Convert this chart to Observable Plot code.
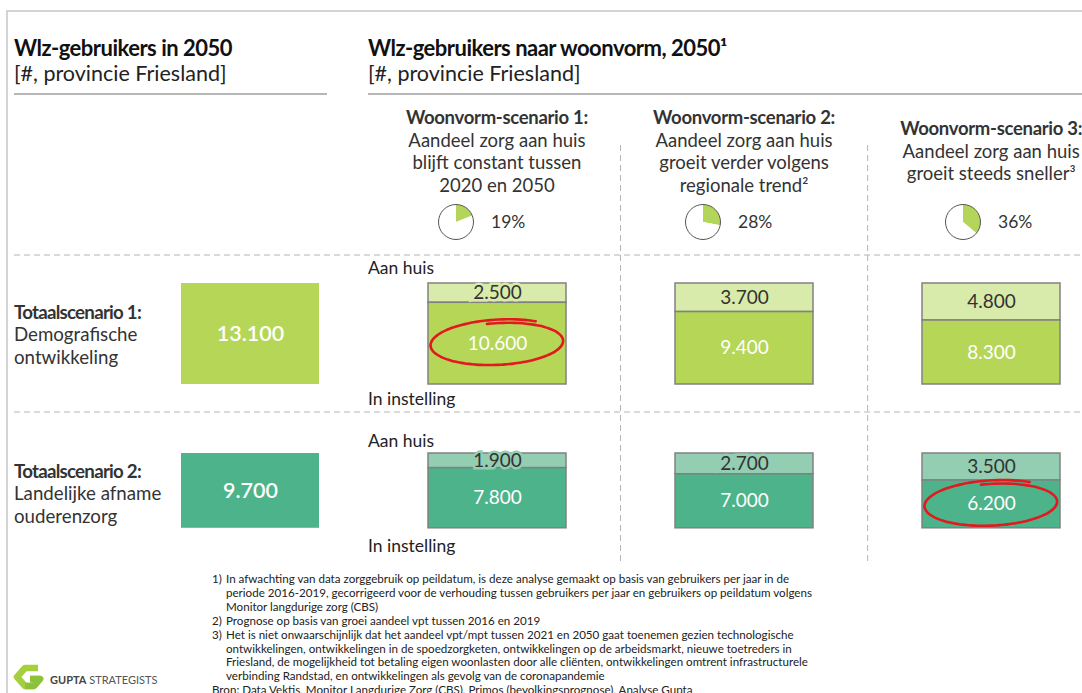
<!DOCTYPE html>
<html><head><meta charset="utf-8">
<script src="https://cdn.jsdelivr.net/npm/d3@7"></script>
<script src="https://cdn.jsdelivr.net/npm/@observablehq/plot@0.6"></script>
<style>
body{margin:0;background:#fff}
#page{position:relative;width:1082px;height:693px;overflow:hidden;background:#fff;font-family:Lato,"Noto Sans",sans-serif;color:#333}
.abs{position:absolute;white-space:nowrap}
.title{font-weight:700;font-size:22px;line-height:24px;color:#111;letter-spacing:-0.5px}
.sub{font-size:21.5px;line-height:24px;color:#222}
.hdr{position:absolute;white-space:nowrap;text-align:center;font-size:18.5px;line-height:22.5px;color:#333;transform:translate(-50%,-50%)}
.hdr b{font-weight:700;letter-spacing:-0.3px}
.lbl{position:absolute;white-space:nowrap;font-size:18.7px;line-height:22.5px;color:#333}
.lbl b{font-weight:700;letter-spacing:-0.75px}
.tag{position:absolute;white-space:nowrap;font-size:17.5px;line-height:22px;color:#222}
.note{position:absolute;left:212px;font-size:11.6px;line-height:13.9px;color:#222;white-space:nowrap}
.note div{padding-left:14px;text-indent:-14px}
.note span{display:inline-block;width:14px;text-indent:0}
.plotwrap{position:absolute;left:0}
</style></head>
<body><div id="page"></div>
<script>
// ---------- data ----------
const kolommen = ["Totaal", "Woonvorm-scenario 1", "Woonvorm-scenario 2", "Woonvorm-scenario 3"];
const woonvormen = kolommen.slice(1);
const woonvormTitels = ["Woonvorm-scenario 1:", "Woonvorm-scenario 2:", "Woonvorm-scenario 3:"];
const woonvormUitleg = [
  ["Aandeel zorg aan huis", "blijft constant tussen", "2020 en 2050"],
  ["Aandeel zorg aan huis", "groeit verder volgens", "regionale trend²"],
  ["Aandeel zorg aan huis", "groeit steeds sneller³"]
];
const aandeelAanHuis = [19, 28, 36];
const totaalscenarios = ["Totaalscenario 1:", "Totaalscenario 2:"];
const totaalUitleg = [["Demografische", "ontwikkeling"], ["Landelijke afname", "ouderenzorg"]];
const totalen = [13100, 9700];
const woonvormTypen = ["Aan huis", "In instelling"];
const aanHuisT1 = [2500, 3700, 4800];
const inInstellingT1 = [10600, 9400, 8300];
const aanHuisT2 = [1900, 2700, 3500];
const inInstellingT2 = [7800, 7000, 6200];
const omcirkeld = ["Woonvorm-scenario 1", "Woonvorm-scenario 3"]; // per totaalscenario
const titels = ["Wlz-gebruikers in 2050", "Wlz-gebruikers naar woonvorm, 2050¹"];
const subtitel = "[#, provincie Friesland]";
const voetnoten = [
  ["1)", ["In afwachting van data zorggebruik op peildatum, is deze analyse gemaakt op basis van gebruikers per jaar in de",
          "periode 2016-2019, gecorrigeerd voor de verhouding tussen gebruikers per jaar en gebruikers op peildatum volgens",
          "Monitor langdurige zorg (CBS)"]],
  ["2)", ["Prognose op basis van groei aandeel vpt tussen 2016 en 2019"]],
  ["3)", ["Het is niet onwaarschijnlijk dat het aandeel vpt/mpt tussen 2021 en 2050 gaat toenemen gezien technologische",
          "ontwikkelingen, ontwikkelingen in de spoedzorgketen, ontwikkelingen op de arbeidsmarkt, nieuwe toetreders in",
          "Friesland, de mogelijkheid tot betaling eigen woonlasten door alle cliënten, ontwikkelingen omtrent infrastructurele",
          "verbinding Randstad, en ontwikkelingen als gevolg van de coronapandemie"]]
];
const bron = "Bron: Data Vektis, Monitor Langdurige Zorg (CBS), Primos (bevolkingsprognose), Analyse Gupta";

// ---------- layout & style ----------
const W = 1082, H = 693;
const kleuren = [
  {"Totaal": "#b5d657", "Aan huis": "#d8ebaa", "In instelling": "#b5d657"},
  {"Totaal": "#4db38a", "Aan huis": "#93cdb2", "In instelling": "#4db38a"}
];
const xOpts = {type: "band", domain: kolommen, range: [181, 1060], paddingInner: 0.443, paddingOuter: 0, align: 0.5, axis: null};
const yOpts = {domain: [0, 13100], range: [10, 111], axis: null};
const pieDx = [-41, -41, -28];
const rijTop = [273, 443];

const nl = d3.formatLocale({decimal: ",", thousands: ".", grouping: [3], currency: ["€ ", ""]});
const fmt = nl.format(",");

const page = document.getElementById("page");
const xs = Plot.scale({x: xOpts});
const bw = xs.bandwidth;
const cx = k => xs.apply(k) + bw / 2;

function add(html, cls, style) {
  const d = document.createElement("div");
  d.className = cls; d.innerHTML = html; Object.assign(d.style, style); page.appendChild(d); return d;
}

// ---------- frame lines ----------
const svg = d3.select(page).append("svg").attr("width", W).attr("height", H)
  .style("position", "absolute").style("left", 0).style("top", 0);
svg.append("path").attr("d", `M7,${H}V11H${W}`).attr("fill", "none").attr("stroke", "#c6c6c6").attr("stroke-width", 1.5);
svg.append("line").attr("x1", 14).attr("x2", 327).attr("y1", 94).attr("y2", 94).attr("stroke", "#6f6f6f");
svg.append("line").attr("x1", 368).attr("x2", W).attr("y1", 94).attr("y2", 94).attr("stroke", "#6f6f6f");
for (const y of [255, 412]) {
  svg.append("line").attr("x1", 14).attr("x2", W).attr("y1", y).attr("y2", y)
    .attr("stroke", "#b4b4b4").attr("stroke-dasharray", "6,4");
}
for (let i = 1; i < woonvormen.length; i++) {
  const x = (xs.apply(woonvormen[i - 1]) + bw + xs.apply(woonvormen[i])) / 2;
  svg.append("line").attr("x1", x).attr("x2", x).attr("y1", 145).attr("y2", 562)
    .attr("stroke", "#b4b4b4").attr("stroke-dasharray", "6,4");
}

// ---------- titles ----------
add(titels[0], "abs title", {left: "14px", top: "36px"});
add(subtitel, "abs sub", {left: "14px", top: "61px"});
add(titels[1], "abs title", {left: "368px", top: "36px"});
add(subtitel, "abs sub", {left: "368px", top: "61px"});

// ---------- scenario headers ----------
woonvormen.forEach((w, i) => {
  add(`<b>${woonvormTitels[i]}</b><br>` + woonvormUitleg[i].join("<br>"), "hdr", {left: cx(w) + "px", top: "151px"});
});

// ---------- pies ----------
const taart = Plot.plot({
  width: W, height: 50, margin: 0,
  style: {background: "transparent", overflow: "visible", fontFamily: "Lato"},
  x: xOpts,
  marks: [
    (index, scales, values, dims) => {
      const sx = scales.x, b = typeof sx.bandwidth === "function" ? sx.bandwidth() : bw;
      const g = d3.create("svg:g");
      woonvormen.forEach((w, i) => {
        const px = sx(w) + b / 2 + pieDx[i], py = dims.height / 2;
        const gg = g.append("g").attr("transform", `translate(${px},${py})`);
        const arcs = d3.pie().sort(null)([aandeelAanHuis[i], 100 - aandeelAanHuis[i]]);
        const arc = d3.arc().innerRadius(0).outerRadius(17.5);
        gg.selectAll("path").data(arcs).join("path").attr("d", arc)
          .attr("fill", (d, j) => j === 0 ? "#b3d65a" : "#fff");
        gg.append("circle").attr("r", 17.5).attr("fill", "none").attr("stroke", "#555").attr("stroke-width", 1);
        gg.append("text").attr("x", 35).attr("dy", "0.35em").attr("font-size", 17.5).attr("fill", "#333")
          .attr("text-anchor", "start").attr("font-family", "Lato").text(aandeelAanHuis[i] + "%");
      });
      return g.node();
    }
  ]
});
const tw = document.createElement("div"); tw.className = "plotwrap"; tw.style.top = "197px"; tw.appendChild(taart); page.appendChild(tw);

// ---------- rows ----------
function rijPlot(r, aanHuis, inInstelling) {
  const segs = woonvormen.flatMap((w, i) => [
    {kolom: w, type: "Aan huis", value: aanHuis[i]},
    {kolom: w, type: "In instelling", value: inInstelling[i]}
  ]);
  const tot = [{kolom: "Totaal", type: "Totaal", value: totalen[r]}];
  const st = o => Plot.stackY({x: "kolom", y: "value", z: "type", order: woonvormTypen, ...o});
  const k = kleuren[r];
  return Plot.plot({
    width: W, height: 130, margin: 0,
    style: {background: "transparent", overflow: "visible", fontFamily: "Lato"},
    x: xOpts, y: yOpts, color: {type: "identity"},
    marks: [
      Plot.barY(tot, {x: "kolom", y: "value", fill: d => k[d.type]}),
      Plot.barY(segs, st({fill: d => k[d.type], stroke: "#818181", strokeWidth: 1.5})),
      Plot.text(tot, {x: "kolom", y: d => d.value / 2, text: d => fmt(d.value), fill: "white", fontSize: 21.5, fontWeight: 600}),
      Plot.text(segs, Plot.filter(d => d.type === "Aan huis", st({text: d => fmt(d.value), fill: "#333", fontSize: 19,
        stroke: k["Aan huis"], strokeWidth: 5, strokeLinejoin: "miter", paintOrder: "stroke"}))),
      Plot.text(segs, Plot.filter(d => d.type === "In instelling", st({text: d => fmt(d.value), fill: "#fff", fontSize: 19}))),
      (index, scales) => {
        const sx = scales.x, b = typeof sx.bandwidth === "function" ? sx.bandwidth() : bw;
        const w = omcirkeld[r], i = woonvormen.indexOf(w);
        const ex = sx(w) + b / 2 + 1, ey = scales.y(aanHuis[i] + inInstelling[i] / 2) + 1;
        const tilt = -0.05, pts = [];
        for (let t = 0; t <= 1.13; t += 0.01) {
          const a = -Math.PI * 0.55 + t * 2 * Math.PI;
          const g = 1 + 0.07 * t;
          const px = 64 * g * Math.cos(a), py = 21 * g * Math.sin(a) - 2 * t;
          pts.push([ex + px * Math.cos(tilt) - py * Math.sin(tilt), ey + px * Math.sin(tilt) + py * Math.cos(tilt)]);
        }
        const p = d3.create("svg:path").attr("d", d3.line().curve(d3.curveBasis)(pts))
          .attr("fill", "none").attr("stroke", "#e3191f").attr("stroke-width", 2.6).attr("stroke-linecap", "round");
        return p.node();
      }
    ]
  });
}
[[aanHuisT1, inInstellingT1], [aanHuisT2, inInstellingT2]].forEach(([a, b], r) => {
  const wrap = document.createElement("div"); wrap.className = "plotwrap"; wrap.style.top = rijTop[r] + "px";
  wrap.appendChild(rijPlot(r, a, b)); page.appendChild(wrap);
});

// ---------- row labels ----------
const lblMid = [334.5, 493.5];
totaalscenarios.forEach((t, r) => {
  const n = 1 + totaalUitleg[r].length;
  add(`<b>${t}</b><br>` + totaalUitleg[r].join("<br>"), "lbl", {left: "14px", top: (lblMid[r] - n * 22.5 / 2) + "px"});
});
const tagY = [[268, 399], [441, 546]];
tagY.forEach(([a, b]) => {
  add(woonvormTypen[0], "tag", {left: "368px", top: (a - 11) + "px"});
  add(woonvormTypen[1], "tag", {left: "368px", top: (b - 11) + "px"});
});

// ---------- footnotes ----------
const nh = voetnoten.map(([n, lines]) => `<div><span>${n}</span>${lines.join("<br>")}</div>`).join("") + `<div style="padding-left:0;text-indent:0">${bron}</div>`;
add(nh, "note", {top: "572px"});

// ---------- logo ----------
svg.append("path").attr("d", "M38,668 L25,668 L17,677 L25,686 L34,686 L40,679 L30,679")
  .attr("fill", "none").attr("stroke", "#a6cf3e").attr("stroke-width", 6.5)
  .attr("stroke-linejoin", "round").attr("stroke-linecap", "butt");
svg.append("path").attr("d", "M25,686 L34,686 L40,679 L30,679")
  .attr("fill", "none").attr("stroke", "#8cc13a").attr("stroke-width", 6.5)
  .attr("stroke-linejoin", "round");
svg.append("text").attr("x", 50).attr("y", 684).attr("font-family", "Lato").attr("font-size", 11).attr("fill", "#444")
  .html('<tspan font-weight="700">GUPTA</tspan><tspan fill="#555"> STRATEGISTS</tspan>');
</script></body></html>
